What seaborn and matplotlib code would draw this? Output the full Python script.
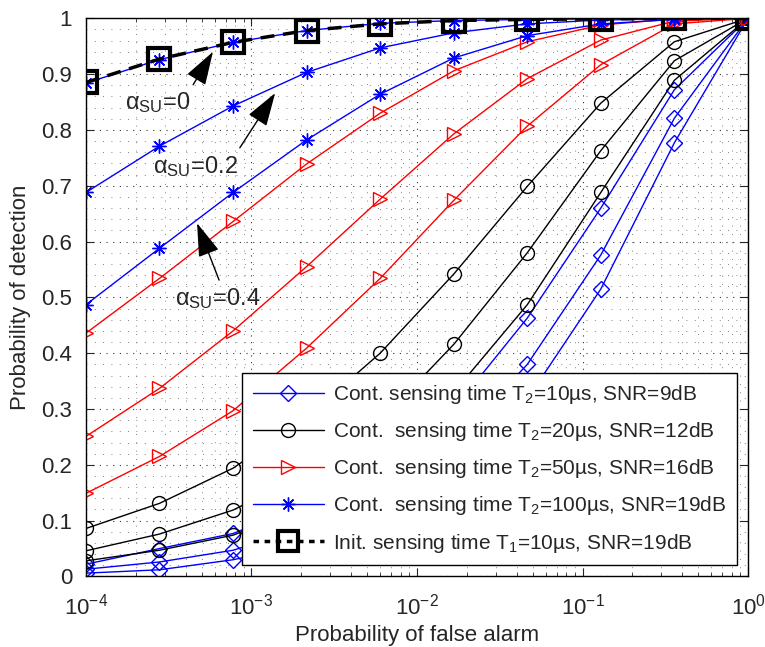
import numpy as np
import matplotlib
matplotlib.use("Agg")
import matplotlib.pyplot as plt
import seaborn as sns
from matplotlib.lines import Line2D
from matplotlib.ticker import MultipleLocator, LogLocator, FuncFormatter, NullFormatter

# =========================
# Data
# =========================
pfa = [1e-4, 2.78e-4, 7.74e-4, 2.15e-3, 5.99e-3, 1.67e-2, 4.64e-2, 1.29e-1, 3.59e-1, 1.0]

# Cont. sensing T2=10us, SNR=9dB (diamonds) for alpha_SU = 0, 0.2, 0.4
pd_10us_a0 = [0.022, 0.050, 0.077, 0.130, 0.205, 0.300, 0.463, 0.660, 0.872, 1.0]
pd_10us_a2 = [0.013, 0.026, 0.047, 0.088, 0.150, 0.240, 0.380, 0.576, 0.821, 1.0]
pd_10us_a4 = [0.006, 0.012, 0.030, 0.058, 0.105, 0.185, 0.318, 0.515, 0.777, 1.0]

# Cont. sensing T2=20us, SNR=12dB (circles)
pd_20us_a0 = [0.086, 0.131, 0.194, 0.285, 0.400, 0.542, 0.699, 0.848, 0.958, 1.0]
pd_20us_a2 = [0.046, 0.076, 0.119, 0.185, 0.278, 0.416, 0.580, 0.763, 0.924, 1.0]
pd_20us_a4 = [0.028, 0.047, 0.074, 0.125, 0.205, 0.330, 0.487, 0.688, 0.889, 1.0]

# Cont. sensing T2=50us, SNR=16dB (triangles)
pd_50us_a0 = [0.436, 0.534, 0.636, 0.739, 0.830, 0.906, 0.958, 0.988, 0.999, 1.0]
pd_50us_a2 = [0.251, 0.337, 0.440, 0.555, 0.676, 0.793, 0.892, 0.961, 0.995, 1.0]
pd_50us_a4 = [0.149, 0.215, 0.297, 0.409, 0.534, 0.674, 0.807, 0.917, 0.990, 1.0]

# Cont. sensing T2=100us, SNR=19dB (stars)
pd_100us_a0 = [0.884, 0.926, 0.957, 0.978, 0.991, 0.996, 0.998, 0.999, 1.0, 1.0]
pd_100us_a2 = [0.688, 0.771, 0.843, 0.903, 0.947, 0.974, 0.990, 0.997, 0.999, 1.0]
pd_100us_a4 = [0.487, 0.588, 0.688, 0.782, 0.864, 0.929, 0.969, 0.990, 0.998, 1.0]

# Init. sensing T1=10us, SNR=19dB (squares)
pd_init = [0.885, 0.927, 0.957, 0.978, 0.990, 0.996, 0.998, 0.999, 1.0, 1.0]

legend_labels = [
    "Cont. sensing time T$_2$=10\u00b5s, SNR=9dB",
    "Cont.  sensing time T$_2$=20\u00b5s, SNR=12dB",
    "Cont.  sensing time T$_2$=50\u00b5s, SNR=16dB",
    "Cont.  sensing time T$_2$=100\u00b5s, SNR=19dB",
    "Init. sensing time T$_1$=10\u00b5s, SNR=19dB",
]

# =========================
# Style
# =========================
sns.set_style("ticks")
plt.rcParams["font.family"] = ["Liberation Sans", "DejaVu Sans"]
plt.rcParams["mathtext.fontset"] = "custom"
plt.rcParams["mathtext.rm"] = "Liberation Sans"
plt.rcParams["mathtext.it"] = "Liberation Sans:italic"
plt.rcParams["mathtext.bf"] = "Liberation Sans:bold"
plt.rcParams["font.size"] = 15

fig = plt.figure(figsize=(7.65, 6.47), dpi=100)
ax = fig.add_axes([0.1124, 0.109, 0.8654, 0.8627])

star = (8, 2, 0)
styles = [
    dict(color="blue", marker="D", markersize=8),
    dict(color="black", marker="o", markersize=10),
    dict(color="red", marker=">", markersize=10),
    dict(color="blue", marker=star, markersize=10),
]
groups = [
    [pd_10us_a0, pd_10us_a2, pd_10us_a4],
    [pd_20us_a0, pd_20us_a2, pd_20us_a4],
    [pd_50us_a0, pd_50us_a2, pd_50us_a4],
    [pd_100us_a0, pd_100us_a2, pd_100us_a4],
]

for st, curves in zip(styles, groups):
    for vals in curves:
        sns.lineplot(x=pfa, y=vals, ax=ax, color=st["color"], marker=st["marker"],
                     markersize=st["markersize"], markerfacecolor="none",
                     markeredgecolor=st["color"], markeredgewidth=1.0,
                     linewidth=1.0, estimator=None, sort=False, legend=False)

sns.lineplot(x=pfa, y=pd_init, ax=ax, color="black", marker="s", markersize=16,
             markerfacecolor="none", markeredgecolor="black", markeredgewidth=3,
             linewidth=2.5, linestyle=(0, (4, 2.5)), estimator=None, sort=False,
             legend=False)

ax.set_xscale("log")
ax.set_xlim(1e-4, 1)
ax.set_ylim(0, 1)
ax.yaxis.set_major_locator(MultipleLocator(0.1))
ax.yaxis.set_minor_locator(MultipleLocator(0.02))
ax.yaxis.set_major_formatter(FuncFormatter(lambda v, p: "%g" % round(v, 2)))
ax.xaxis.set_major_locator(LogLocator(base=10, numticks=10))
ax.xaxis.set_minor_locator(LogLocator(base=10, subs=np.arange(2, 10), numticks=20))
ax.xaxis.set_minor_formatter(NullFormatter())

ax.grid(True, which="major", linestyle=(0, (1, 5)), color="0.2", linewidth=0.8)
ax.grid(True, which="minor", linestyle=(0, (1, 9)), color="0.35", linewidth=0.6)
ax.tick_params(which="both", direction="in", top=True, right=True, labelsize=16)
ax.tick_params(which="major", length=6, width=0.8)
ax.tick_params(which="minor", length=3, width=0.6)
ax.tick_params(axis="y", which="minor", length=0)
ax.tick_params(axis="x", which="major", pad=12)
ax.tick_params(axis="y", which="major", pad=10)
for s in ax.spines.values():
    s.set_linewidth(1.0)
    s.set_color("black")

ax.set_xlabel("Probability of false alarm", fontsize=16, labelpad=4)
ax.set_ylabel("Probability of detection", fontsize=16, labelpad=7)

# annotations
arrowprops = dict(arrowstyle="-|>,head_length=1.4,head_width=0.45", color="black",
                  linewidth=1.0, shrinkA=0, shrinkB=0)
ax.annotate("", xy=(5.85e-4, 0.940), xytext=(4.44e-4, 0.881), arrowprops=arrowprops)
ax.annotate("", xy=(1.39e-3, 0.866), xytext=(8.5e-4, 0.768), arrowprops=arrowprops)
ax.annotate("", xy=(4.69e-4, 0.633), xytext=(6.37e-4, 0.531), arrowprops=arrowprops)
ax.text(1.72e-4, 0.838, "\u03b1$_{\\mathrm{SU}}$=0", fontsize=17, va="baseline", ha="left")
ax.text(2.54e-4, 0.723, "\u03b1$_{\\mathrm{SU}}$=0.2", fontsize=17, va="baseline", ha="left")
ax.text(3.45e-4, 0.487, "\u03b1$_{\\mathrm{SU}}$=0.4", fontsize=17, va="baseline", ha="left")

# legend
handles = [Line2D([], [], color=st["color"], marker=st["marker"], markersize=st["markersize"],
                  markerfacecolor="none", markeredgecolor=st["color"], linewidth=1.0)
           for st in styles]
handles.append(Line2D([], [], color="black", marker="s", markersize=14, markerfacecolor="none",
                      markeredgewidth=3, linewidth=2.5, linestyle=(0, (1.6, 1.6))))
leg = ax.legend(handles, legend_labels, loc="lower right", fontsize=15, frameon=True,
                fancybox=False, framealpha=1, edgecolor="black", handlelength=3.4,
                labelspacing=0.68, borderaxespad=0.55, handletextpad=0.45, borderpad=0.5)
leg.get_frame().set_linewidth(1.0)

plt.savefig("out.png", dpi=100)
